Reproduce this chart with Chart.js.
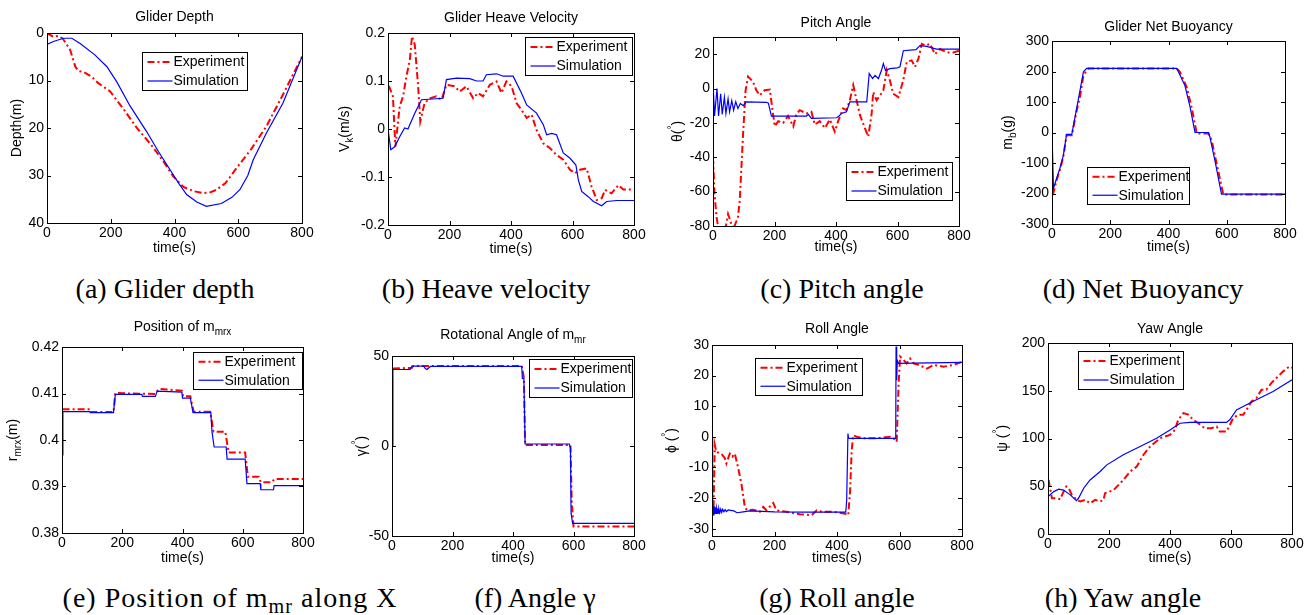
<!DOCTYPE html>
<html><head><meta charset="utf-8">
<script src="https://cdn.jsdelivr.net/npm/chart.js@4.4.0/dist/chart.umd.min.js"></script>
<style>
html,body{margin:0;padding:0;background:#fff;}
body{width:1311px;height:615px;overflow:hidden;position:relative;}
canvas{position:absolute;}
.cap{position:absolute;font-family:'Liberation Serif','Times New Roman',serif;font-size:28px;line-height:1;color:#000;white-space:nowrap;transform:translateX(-50%);}
.cap sub{font-size:0.72em;line-height:0;vertical-align:-0.28em;}
</style></head><body>
<div class="cap" style="left:165px;top:275px">(a) Glider depth</div>
<div class="cap" style="left:486px;top:275px">(b) Heave velocity</div>
<div class="cap" style="left:842px;top:275px">(c) Pitch angle</div>
<div class="cap" style="left:1143px;top:275px">(d) Net Buoyancy</div>
<div class="cap" style="left:230px;top:584px;letter-spacing:1px">(e) Position of m<sub>mr</sub> along X</div>
<div class="cap" style="left:535px;top:584px">(f) Angle γ</div>
<div class="cap" style="left:837px;top:584px">(g) Roll angle</div>
<div class="cap" style="left:1123px;top:584px">(h) Yaw angle</div>
<script>
// ---------- tick values / labels ----------
const xTicks = [0, 200, 400, 600, 800];
const xTickLabels = ['0', '200', '400', '600', '800'];
const yTicksA = [0, 10, 20, 30, 40];
const yTicksB = [-0.2, -0.1, 0, 0.1, 0.2];
const yTicksC = [-80, -60, -40, -20, 0, 20];
const yTicksD = [-300, -200, -100, 0, 100, 200, 300];
const yTicksE = [0.38, 0.39, 0.4, 0.41, 0.42];
const yTicksF = [-50, 0, 50];
const yTicksG = [-30, -20, -10, 0, 10, 20, 30];
const yTicksH = [0, 50, 100, 150, 200];

// ---------- (a) depth ----------
const depthExpT = [0, 20, 35, 50, 73, 89, 99, 115, 140, 160, 198, 240, 282, 330, 370, 396, 428, 460, 490, 510, 532, 560, 594, 640, 688, 740, 800];
const depthExpV = [0, 0.8, 0.6, 1.2, 3.6, 7.1, 8.0, 8.2, 9.2, 10.5, 12.3, 16.0, 20.0, 23.8, 27.5, 30.2, 32.4, 33.3, 33.7, 33.6, 33.0, 31.6, 28.5, 24.5, 19.7, 13.0, 5.0];
const depthSimT = [0, 20, 52, 78, 104, 150, 188, 219, 260, 313, 350, 386, 415, 438, 470, 500, 547, 580, 605, 630, 647, 688, 740, 800];
const depthSimV = [2.4, 1.8, 1.1, 1.1, 2.2, 4.6, 7.1, 10.3, 15.3, 20.8, 25.0, 28.8, 31.8, 34.0, 35.6, 36.5, 35.9, 34.6, 33.0, 30.0, 26.7, 21.1, 14.8, 5.0];

// ---------- (b) heave velocity ----------
const velExpT = [3, 16, 24, 38, 49, 60, 71, 78, 87, 98, 105, 119, 136, 157, 174, 190, 217, 233, 255, 277, 293, 309, 331, 353, 369, 385, 402, 418, 434, 451, 467, 483, 505, 527, 548, 570, 592, 608, 624, 646, 662, 679, 695, 706, 727, 749, 765, 800];
const velExpV = [0.090, 0.068, -0.037, 0.047, 0.068, 0.110, 0.144, 0.193, 0.176, 0.089, 0.016, 0.054, 0.064, 0.068, 0.061, 0.092, 0.089, 0.078, 0.089, 0.064, 0.075, 0.068, 0.092, 0.099, 0.075, 0.099, 0.089, 0.054, 0.040, 0.023, 0.030, -0.002, -0.030, -0.040, -0.054, -0.064, -0.085, -0.092, -0.085, -0.082, -0.120, -0.148, -0.144, -0.127, -0.134, -0.117, -0.126, -0.126];
const velSimT = [0, 9, 22, 38, 54, 65, 87, 109, 179, 190, 223, 266, 288, 309, 320, 353, 375, 407, 434, 451, 483, 505, 516, 532, 548, 570, 592, 611, 619, 630, 651, 668, 695, 711, 744, 800];
const velSimV = [0, -0.043, -0.037, -0.016, 0.002, 0, 0.033, 0.061, 0.064, 0.103, 0.106, 0.105, 0.100, 0.100, 0.113, 0.115, 0.110, 0.110, 0.075, 0.050, 0.033, 0.009, -0.012, -0.009, -0.012, -0.050, -0.061, -0.075, -0.106, -0.130, -0.141, -0.151, -0.160, -0.151, -0.149, -0.149];

// ---------- (c) pitch ----------
const pitchExpT = [0, 5, 11, 16, 30, 42, 49, 60, 70, 81, 87, 98, 106, 114, 130, 141, 152, 168, 185, 193, 201, 212, 228, 244, 261, 271, 282, 304, 320, 331, 347, 364, 380, 396, 407, 423, 434, 445, 456, 467, 478, 494, 505, 516, 521, 532, 543, 554, 565, 575, 586, 603, 619, 630, 646, 657, 668, 679, 690, 706, 722, 738, 760, 782, 800];
const pitchExpV = [-40, -61, -74, -80, -82, -80, -73, -79, -80, -75, -65, -26, -1, 7, 4, -1, -4, -1, -0.6, -12, -22, -19, -20, -16, -22, -15, -12.6, -14.5, -13.5, -21, -19, -23, -18, -25, -19, -11.6, -12.6, -6.8, 2, -6.8, -15.5, -23, -28, -14.5, -2, -6.8, -4, -1, 10.6, 5, -3, -5, 5, 15.5, 16.4, 12.6, 17.4, 26, 25, 26, 20, 23, 21, 21, 22];
const pitchSimT = [0, 5, 13, 18, 25, 30, 37, 42, 49, 54, 61, 67, 74, 81, 89, 98, 109, 174, 180, 190, 304, 310, 320, 402, 410, 418, 434, 445, 500, 508, 519, 527, 538, 548, 554, 561, 575, 600, 608, 619, 660, 673, 695, 727, 800];
const pitchSimV = [4, -16, 0, -16, -3, -15, -5, -14.5, -6, -13.5, -7, -12.6, -7.7, -11.6, -8.7, -10, -7.7, -8, -8.5, -16, -16, -15, -17.4, -17, -16, -14.5, -13.5, -7.7, -7.7, 8.7, 5.8, 7.7, 5.8, 10.6, 14.5, 10.6, 11.6, 12, 12.6, 22, 22.6, 25, 24.5, 23, 23];

// ---------- (d) net buoyancy ----------
const buoyExpT = [3, 16, 27, 39, 50, 68, 85, 96, 108, 125, 428, 439, 462, 479, 497, 537, 548, 565, 588, 800];
const buoyExpV = [-205, -156, -123, -80, -9, -9, 73, 117, 188, 210, 210, 199, 150, 84, -3, -3, -25, -101, -203, -203];
const buoySimT = [0, 5, 16, 27, 39, 50, 68, 90, 108, 119, 428, 434, 456, 474, 491, 537, 542, 559, 582, 800];
const buoySimV = [0, -183, -150, -118, -75, -6, -6, 106, 199, 210, 210, 199, 155, 84, 0, 0, -14, -90, -202, -202];

// ---------- (e) position of m_mrx ----------
const rExpT = [2, 92, 94, 171, 177, 232, 310, 318, 326, 398, 402, 426, 437, 492, 503, 542, 553, 608, 617, 653, 660, 697, 705, 800];
const rExpV = [0.4066, 0.4066, 0.4060, 0.4060, 0.4101, 0.4100, 0.4099, 0.4107, 0.4110, 0.4106, 0.4094, 0.4094, 0.4061, 0.4061, 0.4018, 0.4018, 0.3973, 0.3973, 0.3921, 0.3921, 0.3909, 0.3909, 0.3916, 0.3916];
const rSimT = [0, 3, 92, 94, 171, 177, 265, 267, 310, 316, 398, 400, 426, 435, 494, 498, 505, 545, 548, 608, 614, 658, 660, 702, 704, 800];
const rSimV = [0.3968, 0.4061, 0.4061, 0.4059, 0.4059, 0.4098, 0.4098, 0.4094, 0.4094, 0.4105, 0.4103, 0.4090, 0.4090, 0.4059, 0.4059, 0.4017, 0.3985, 0.3985, 0.3959, 0.3959, 0.3906, 0.3906, 0.3893, 0.3893, 0.3902, 0.3902];

// ---------- (f) rotational angle gamma ----------
const gamExpT = [3, 66, 70, 429, 436, 440, 590, 594, 600, 800];
const gamExpV = [43, 43.5, 44.5, 44.5, 38, 0.5, 0.5, -30, -44.7, -44.7];
const gamSimT = [0, 3, 60, 66, 105, 110, 116, 122, 127, 429, 431, 436, 440, 586, 590, 592, 597, 800];
const gamSimV = [0, 42.5, 42.5, 44.4, 44.4, 43, 42.5, 43.5, 44.2, 44.2, 37.5, 37.5, 1.1, 1.1, -1.3, -37.3, -43, -43];

// ---------- (g) roll ----------
const rollExpT = [5, 9, 14, 30, 41, 46, 57, 65, 73, 83, 94, 105, 112, 132, 153, 164, 174, 196, 206, 238, 281, 319, 335, 351, 388, 426, 436, 442, 447, 452, 463, 484, 516, 570, 581, 591, 597, 602, 613, 623, 634, 645, 661, 688, 709, 741, 773, 800];
const rollExpV = [-23, -2.7, -5, -5.5, -7, -8.7, -5.5, -6.5, -5.5, -9.8, -15.3, -22.9, -24, -23.8, -24.5, -22.9, -24, -21.6, -24, -24.5, -25.3, -25.6, -24, -24.5, -24.5, -25.1, -25.6, -17.5, -4.4, 0.5, 0, -0.5, -0.5, 0, -0.5, -1.6, 16.9, 26.2, 25.1, 24, 25.6, 24, 23.5, 22.3, 23.5, 22.9, 23.5, 24.5];
const rollSimT = [0, 2, 4, 6, 8, 10, 12, 14, 16, 18, 20, 22, 25, 28, 31, 34, 38, 42, 46, 52, 60, 70, 80, 100, 120, 200, 300, 428, 431, 435, 437, 440, 587, 588, 589, 591, 593, 597, 800];
const rollSimV = [0, -22, -25.5, -22.5, -25.3, -23, -25.2, -23.2, -25, -23.4, -24.9, -23.5, -24.8, -23.6, -24.7, -23.7, -24.5, -23.8, -24.4, -23.9, -24, -24.2, -24.8, -24.5, -24.2, -24.5, -24.6, -24.6, -20.7, 1.1, -0.5, -0.5, -0.5, 3.3, 29.5, 18.5, 25, 24, 24.3];

// ---------- (h) yaw ----------
const yawExpT = [2, 8, 13, 29, 40, 51, 60, 68, 78, 95, 106, 122, 138, 155, 171, 182, 187, 215, 247, 269, 291, 313, 335, 367, 400, 416, 427, 444, 460, 476, 493, 514, 536, 553, 563, 585, 596, 607, 623, 640, 651, 667, 683, 700, 716, 732, 749, 771, 792, 800];
const yawExpV = [56.6, 46, 37.4, 37.4, 36.4, 44.4, 49.7, 48, 41, 35.7, 34, 35.7, 32.2, 35.7, 34, 35.7, 42.7, 46, 56.6, 65.4, 70.6, 83, 91.6, 100.3, 103.8, 109, 119.6, 126.6, 125, 119.6, 116, 110.8, 110.8, 112.6, 107.3, 107.3, 114, 121.3, 124.8, 124.8, 130, 138.8, 142.3, 151, 151, 158, 163.3, 170.3, 175.5, 174];
const yawSimT = [0, 19, 35, 51, 73, 93, 100, 117, 138, 171, 193, 247, 302, 356, 400, 433, 465, 520, 585, 596, 618, 651, 683, 738, 800];
const yawSimV = [39.2, 44.4, 46.9, 46, 41, 35, 37.4, 47.9, 56.6, 65.4, 72.4, 83, 91.6, 100.3, 109, 116, 116.8, 116.8, 116.8, 119.6, 130, 135.3, 140.6, 149.3, 161.5];

const seriesNames = ['Experiment', 'Simulation'];

// ---------- layout ----------
const PAD_L = 60, PAD_R = 14, PAD_T = 40, PAD_B = 42;
const SANS = "'Liberation Sans', Arial, Helvetica, sans-serif";

const panels = [
  {plot:[47,33,302,223], yMin:0, yMax:40, rev:true, yTicks:yTicksA,
   title:[['Glider Depth']], tDy:16, yTitle:[['Depth(m)']], yDx:30, xTitle:'time(s)', xDy:25,
   legend:[142,52,247,90], exp:[depthExpT,depthExpV], sim:[depthSimT,depthSimV]},
  {plot:[388,33,634,225], yMin:-0.2, yMax:0.2, yTicks:yTicksB,
   title:[['Glider Heave Velocity']], tDy:15, yTitle:[['V'],['k',1],['(m/s)']], yDx:43, xTitle:'time(s)', xDy:24,
   legend:[525,37,632,75], exp:[velExpT,velExpV], sim:[velSimT,velSimV]},
  {plot:[713,37,959,226], yMin:-80, yMax:30, yTicks:yTicksC,
   title:[['Pitch Angle']], tDy:14, yTitle:[['θ('],['°',2],[')']], yDx:35, xTitle:'time(s)', xDy:21,
   legend:[846,162,952,200], exp:[pitchExpT,pitchExpV], sim:[pitchSimT,pitchSimV]},
  {plot:[1052,41,1285,224], yMin:-300, yMax:300, yTicks:yTicksD,
   title:[['Glider Net Buoyancy']], tDy:14, yTitle:[['m'],['b',1],['(g)']], yDx:44, xTitle:'time(s)', xDy:23,
   legend:[1087,167,1189,204], exp:[buoyExpT,buoyExpV], sim:[buoySimT,buoySimV]},
  {plot:[62,347,303,533], yMin:0.38, yMax:0.42, yTicks:yTicksE,
   title:[['Position of m'],['mrx',1]], tDy:20, yTitle:[['r'],['mrx',1],['(m)']], yDx:49, xTitle:'time(s)', xDy:25,
   legend:[193,352,302,389], exp:[rExpT,rExpV], sim:[rSimT,rSimV]},
  {plot:[392,356,634,536], yMin:-50, yMax:50, yTicks:yTicksF,
   title:[['Rotational Angle of m'],['mr',1]], tDy:21, yTitle:[['γ('],['°',2],[')']], yDx:30, xTitle:'time(s)', xDy:22,
   legend:[529,359,632,397], exp:[gamExpT,gamExpV], sim:[gamSimT,gamSimV]},
  {plot:[712,345,962,536], yMin:-32.4, yMax:30, yTicks:yTicksG,
   title:[['Roll Angle']], tDy:16, yTitle:[['ϕ ('],['°',2],[')']], yDx:40, xTitle:'times(s)', xDy:22,
   legend:[755,358,862,395], exp:[rollExpT,rollExpV], sim:[rollSimT,rollSimV]},
  {plot:[1048,343,1292,534], yMin:0, yMax:200, yTicks:yTicksH,
   title:[['Yaw Angle']], tDy:14, yTitle:[['ψ ('],['°',2],[')']], yDx:45, xTitle:'time(s)', xDy:24,
   legend:[1078,351,1183,389], exp:[yawExpT,yawExpV], sim:[yawSimT,yawSimV]}
];

function pts(t, v) { return t.map((x, i) => ({x: x, y: v[i]})); }
function fmt(v) { return String(Math.round(v * 1e6) / 1e6); }

function drawRich(ctx, segs, cx, cy, size, rot) {
  ctx.save();
  ctx.translate(cx, cy);
  ctx.rotate(rot);
  ctx.textBaseline = 'middle';
  ctx.textAlign = 'left';
  ctx.fillStyle = '#000';
  const fontOf = s => (s[1] ? Math.round(size * 0.72) : size) + 'px ' + SANS;
  let w = 0;
  segs.forEach(s => { ctx.font = fontOf(s); w += ctx.measureText(s[0]).width; });
  let x = -w / 2;
  segs.forEach(s => {
    ctx.font = fontOf(s);
    const dy = s[1] === 1 ? size * 0.38 : (s[1] === 2 ? -size * 0.42 : 0);
    ctx.fillText(s[0], x, dy);
    x += ctx.measureText(s[0]).width;
  });
  ctx.restore();
}

const framePlugin = {
  id: 'matlabFrame',
  afterDatasetsDraw(chart) {
    const ctx = chart.ctx, a = chart.chartArea, sx = chart.scales.x, sy = chart.scales.y;
    const tl = 4;
    ctx.save();
    ctx.strokeStyle = '#000';
    ctx.lineWidth = 1;
    ctx.beginPath();
    sx.ticks.forEach(t => {
      const px = Math.round(sx.getPixelForValue(t.value)) + 0.5;
      ctx.moveTo(px, a.bottom); ctx.lineTo(px, a.bottom - tl);
      ctx.moveTo(px, a.top); ctx.lineTo(px, a.top + tl);
    });
    sy.ticks.forEach(t => {
      const py = Math.round(sy.getPixelForValue(t.value)) + 0.5;
      ctx.moveTo(a.left, py); ctx.lineTo(a.left + tl, py);
      ctx.moveTo(a.right, py); ctx.lineTo(a.right - tl, py);
    });
    ctx.stroke();
    ctx.strokeRect(a.left + 0.5, a.top + 0.5, a.right - a.left, a.bottom - a.top);
    ctx.restore();
  }
};

function makeTextPlugin(p, ox, oy) {
  return {
    id: 'mlText',
    afterDraw(chart) {
      const ctx = chart.ctx, a = chart.chartArea;
      drawRich(ctx, p.title, (a.left + a.right) / 2, a.top - p.tDy, 14, 0);
      drawRich(ctx, p.yTitle, a.left - p.yDx, (a.top + a.bottom) / 2, 14, -Math.PI / 2);
      // legend box
      const [x1, y1, x2, y2] = p.legend;
      const lx = x1 - ox + 0.5, ly = y1 - oy + 0.5, lw = x2 - x1, lh = y2 - y1;
      ctx.save();
      ctx.fillStyle = '#fff';
      ctx.fillRect(lx, ly, lw, lh);
      ctx.strokeStyle = '#000';
      ctx.lineWidth = 1;
      ctx.strokeRect(lx, ly, lw, lh);
      chart.data.datasets.forEach((ds, i) => {
        const yc = ly + lh * (2 * i + 1) / 4;
        ctx.save();
        ctx.strokeStyle = ds.borderColor;
        ctx.lineWidth = ds.borderWidth;
        ctx.setLineDash(ds.borderDash || []);
        ctx.beginPath();
        ctx.moveTo(lx + 5, yc); ctx.lineTo(lx + 30, yc);
        ctx.stroke();
        ctx.restore();
        ctx.fillStyle = '#000';
        ctx.font = '14px ' + SANS;
        ctx.textBaseline = 'middle';
        ctx.textAlign = 'left';
        ctx.fillText(ds.label, lx + 31, yc + 0.5);
      });
      ctx.restore();
    }
  };
}

function makeChart(p) {
  const [L, T, R, B] = p.plot;
  const W = R - L + PAD_L + PAD_R, H = B - T + PAD_T + PAD_B;
  const ox = L - PAD_L, oy = T - PAD_T;
  const cv = document.createElement('canvas');
  cv.width = W; cv.height = H;
  cv.style.left = ox + 'px'; cv.style.top = oy + 'px';
  cv.style.width = W + 'px'; cv.style.height = H + 'px';
  document.body.appendChild(cv);
  const tickFont = {family: SANS, size: 14, lineHeight: 1.2};
  new Chart(cv.getContext('2d'), {
    type: 'line',
    data: {datasets: [
      {label: seriesNames[0], data: pts(p.exp[0], p.exp[1]), borderColor: '#ff0000', borderWidth: 2,
       borderDash: [7, 3, 2, 3], pointRadius: 0, tension: 0, fill: false, order: 2},
      {label: seriesNames[1], data: pts(p.sim[0], p.sim[1]), borderColor: '#0000ff', borderWidth: 1.2,
       pointRadius: 0, tension: 0, fill: false, order: 1}
    ]},
    options: {
      responsive: false, maintainAspectRatio: false, animation: false, devicePixelRatio: 1,
      layout: {padding: {left: 0, top: PAD_T, right: PAD_R, bottom: 0}},
      plugins: {legend: {display: false}, tooltip: {enabled: false}, title: {display: false}},
      scales: {
        x: {type: 'linear', min: 0, max: 800,
            afterBuildTicks: s => { s.ticks = xTicks.map(v => ({value: v})); },
            afterFit: s => { s.height = PAD_B; s.paddingLeft = 0; s.paddingRight = 0; },
            grid: {display: false, drawTicks: false}, border: {display: false},
            ticks: {autoSkip: false, maxRotation: 0, minRotation: 0, padding: 2, color: '#000', font: tickFont,
                    callback: (v, i) => xTickLabels[i]},
            title: {display: true, text: p.xTitle, color: '#000', font: {family: SANS, size: 14, lineHeight: 1.2},
                    padding: {top: 0, bottom: PAD_B - 8.4 - p.xDy}}},
        y: {type: 'linear', min: p.yMin, max: p.yMax, reverse: !!p.rev,
            afterBuildTicks: s => { s.ticks = p.yTicks.map(v => ({value: v})); },
            afterFit: s => { s.width = PAD_L; s.paddingTop = 0; s.paddingBottom = 0; },
            grid: {display: false, drawTicks: false}, border: {display: false},
            ticks: {autoSkip: false, padding: 3, color: '#000', font: tickFont,
                    callback: (v, i) => fmt(p.yTicks[i])}}
      }
    },
    plugins: [framePlugin, makeTextPlugin(p, ox, oy)]
  });
}

panels.forEach(makeChart);
</script>
</body></html>
